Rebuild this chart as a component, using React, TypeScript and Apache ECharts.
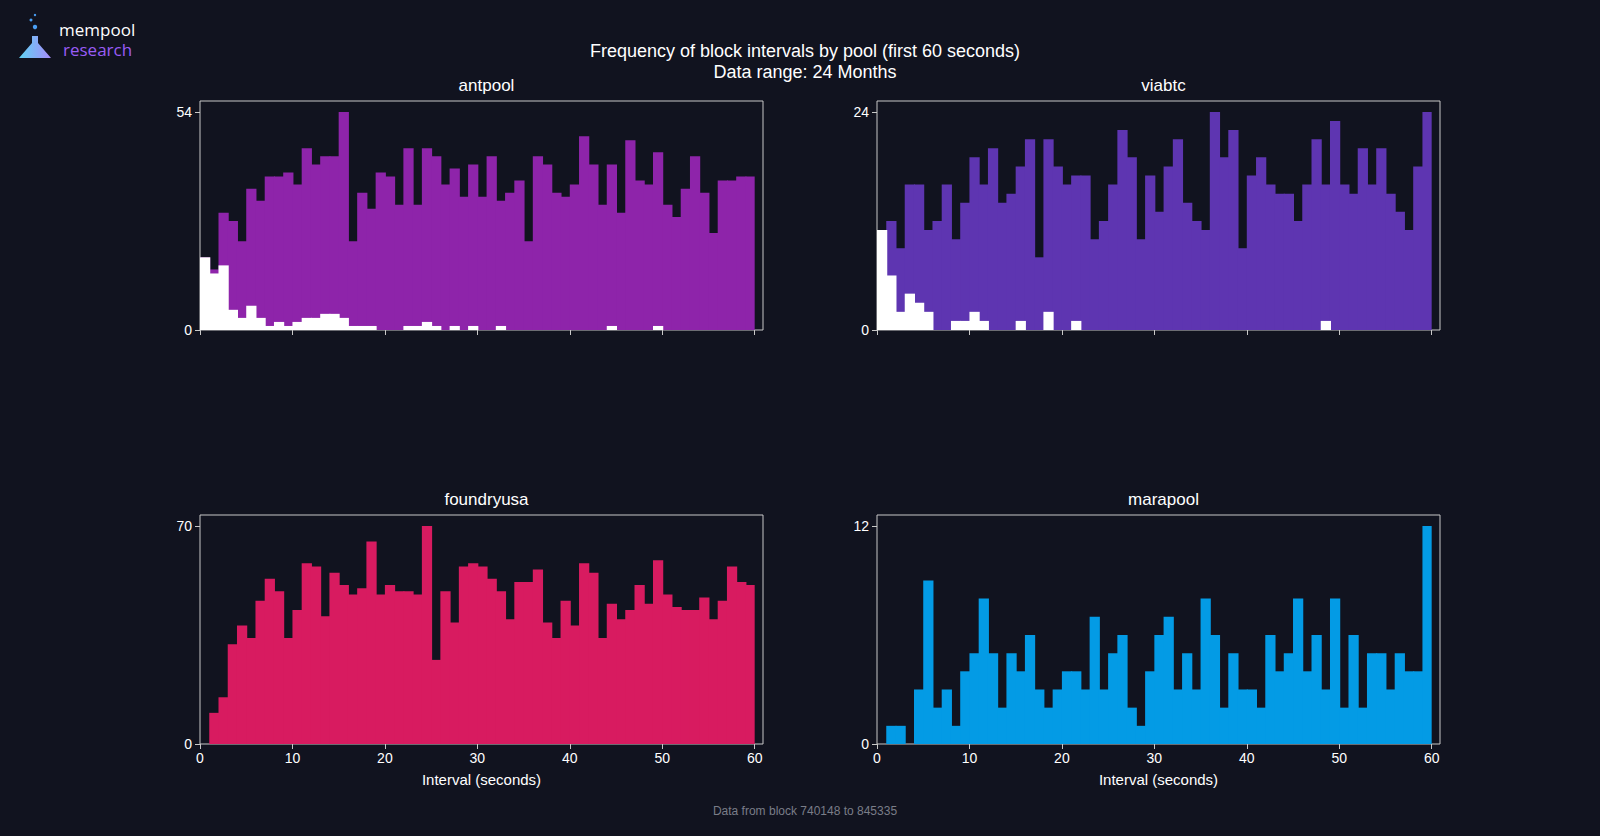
import { useEffect, useRef } from 'react'
import * as echarts from 'echarts'

// ─── data: counts per 1-second bin, 0..59 s ───
const POOLS = ['antpool', 'viabtc', 'foundryusa', 'marapool']

const antpool = [18, 15, 29, 27, 22, 35, 32, 38, 38, 39, 36, 45, 41, 43, 43, 54, 22, 34, 30, 39,
  38, 31, 45, 31, 45, 43, 36, 40, 33, 41, 33, 43, 32, 34, 37, 22, 43, 41, 34, 33,
  36, 48, 41, 31, 41, 29, 47, 37, 36, 44, 31, 28, 35, 43, 34, 24, 37, 37, 38, 38]
const antpoolEmpty = [18, 14, 16, 5, 3, 6, 3, 1, 2, 1, 2, 3, 3, 4, 4, 3, 1, 1, 1, 0,
  0, 0, 1, 1, 2, 1, 0, 1, 0, 1, 0, 0, 1, 0, 0, 0, 0, 0, 0, 0,
  0, 0, 0, 0, 1, 0, 0, 0, 0, 1, 0, 0, 0, 0, 0, 0, 0, 0, 0, 0]
const viabtc = [11, 12, 9, 16, 16, 11, 12, 16, 10, 14, 19, 16, 20, 14, 15, 18, 21, 8, 21, 18,
  16, 17, 17, 10, 12, 16, 22, 19, 10, 17, 13, 18, 21, 14, 12, 11, 24, 19, 22, 9,
  17, 19, 16, 15, 15, 12, 16, 21, 16, 23, 16, 15, 20, 16, 20, 15, 13, 11, 18, 24]
const viabtcEmpty = [11, 6, 2, 4, 3, 2, 0, 0, 1, 1, 2, 1, 0, 0, 0, 1, 0, 0, 2, 0,
  0, 1, 0, 0, 0, 0, 0, 0, 0, 0, 0, 0, 0, 0, 0, 0, 0, 0, 0, 0,
  0, 0, 0, 0, 0, 0, 0, 0, 1, 0, 0, 0, 0, 0, 0, 0, 0, 0, 0, 0]
const foundryusa = [0, 10, 15, 32, 38, 34, 46, 53, 49, 34, 43, 58, 57, 41, 55, 51, 48, 50, 65, 48,
  51, 49, 49, 48, 70, 27, 49, 39, 57, 58, 57, 53, 49, 40, 52, 52, 56, 39, 34, 46,
  38, 58, 55, 34, 45, 40, 43, 51, 45, 59, 48, 44, 43, 43, 47, 40, 46, 57, 52, 51]
const marapool = [0, 1, 1, 0, 3, 9, 2, 3, 1, 4, 5, 8, 5, 2, 5, 4, 6, 3, 2, 3,
  4, 4, 3, 7, 3, 5, 6, 2, 1, 4, 6, 7, 3, 5, 3, 8, 6, 2, 5, 3,
  3, 2, 6, 4, 5, 8, 4, 6, 3, 8, 2, 6, 2, 5, 5, 3, 5, 4, 4, 12]

const SERIES = [antpool, viabtc, foundryusa, marapool]
const EMPTY = [antpoolEmpty, viabtcEmpty, null, null]
const COLORS = ['#8e24aa', '#5e35b1', '#d81b60', '#039be5']
const X_TICKS = [0, 10, 20, 30, 40, 50, 60]

const BG = '#11131f'
const FONT = '"Liberation Sans", Arial, sans-serif'

const GRIDS = [
  { left: 200, top: 101, width: 563, height: 229 },
  { left: 877, top: 101, width: 563, height: 229 },
  { left: 200, top: 515, width: 563, height: 229 },
  { left: 877, top: 515, width: 563, height: 229 },
]

const histSeries = (data: number[], idx: number, color: string) => ({
  type: 'custom',
  xAxisIndex: idx,
  yAxisIndex: idx,
  data: data.map((v, i) => [i, v]),
  renderItem: (_p: any, api: any) => {
    const i = api.value(0), v = api.value(1)
    if (!v) return null
    const a = api.coord([i, v]), b = api.coord([i + 1, 0])
    // overlap neighbours by 1px so no seams show
    const last = i === data.length - 1
    return {
      type: 'rect',
      shape: { x: a[0], y: a[1], width: b[0] - a[0] + (last ? 0 : 1), height: b[1] - a[1] },
      style: { fill: color },
    }
  },
})

export default function App() {
  const ref = useRef<HTMLDivElement>(null)

  useEffect(() => {
    if (!ref.current) return
    document.body.style.margin = '0'
    document.body.style.background = BG
    const chart = echarts.init(ref.current, null, { renderer: 'svg' })

    const series: any[] = []
    SERIES.forEach((d, i) => {
      series.push(histSeries(d, i, COLORS[i]))
      const e = EMPTY[i]
      if (e) series.push(histSeries(e, i, '#ffffff'))
    })

    chart.setOption({
      animation: false,
      backgroundColor: BG,
      textStyle: { fontFamily: FONT },
      title: [
        { text: 'Frequency of block intervals by pool (first 60 seconds)\nData range: 24 Months', left: 800, top: 35, textAlign: 'center',
          textStyle: { color: '#ffffff', fontSize: 18, fontWeight: 'normal', lineHeight: 21, fontFamily: FONT } },
        ...POOLS.map((p, i) => ({
          text: p, left: GRIDS[i].left + GRIDS[i].width / 2, top: GRIDS[i].top - 29, textAlign: 'center',
          textStyle: { color: '#ffffff', fontSize: 17, fontWeight: 'normal', fontFamily: FONT },
        })),
        { text: 'Data from block 740148 to 845335', left: 800, top: 800, textAlign: 'center',
          textStyle: { color: '#7a7d88', fontSize: 12, fontWeight: 'normal', fontFamily: FONT } },
      ],
      grid: GRIDS.map(g => ({ ...g, show: true, borderColor: '#c8c8c8', borderWidth: 1, containLabel: false })),
      xAxis: GRIDS.map((_, i) => ({
        type: 'value', gridIndex: i, min: 0, max: 60.9, interval: 10,
        name: i >= 2 ? 'Interval (seconds)' : '', nameLocation: 'middle', nameGap: 28,
        nameTextStyle: { color: '#ffffff', fontSize: 15, fontFamily: FONT },
        axisLine: { show: false },
        axisTick: { show: true, inside: false, length: 5, lineStyle: { color: '#c8c8c8' }, customValues: X_TICKS },
        axisLabel: { show: i >= 2, color: '#ffffff', fontSize: 14, margin: 7, customValues: X_TICKS, showMaxLabel: true },
        splitLine: { show: false },
      })),
      yAxis: GRIDS.map((_, i) => {
        const m = Math.max(...SERIES[i])
        return {
          type: 'value', gridIndex: i, min: 0, max: m * 1.05,
          axisLine: { show: false },
          axisTick: { show: true, length: 5, lineStyle: { color: '#c8c8c8' }, customValues: [0, m] },
          axisLabel: { color: '#ffffff', fontSize: 14, margin: 8, customValues: [0, m] },
          splitLine: { show: false },
        }
      }),
      graphic: [
        { type: 'polygon', shape: { points: [[32, 36], [38, 36], [38, 43], [51, 58], [19, 58], [32, 43]] },
          style: { fill: new echarts.graphic.LinearGradient(0, 0, 1, 0, [
            { offset: 0, color: '#5fd3f3' }, { offset: 1, color: '#a78bfa' }]) } },
        { type: 'circle', shape: { cx: 35, cy: 27, r: 2.2 }, style: { fill: '#4a9ff5' } },
        { type: 'circle', shape: { cx: 31, cy: 20, r: 1.5 }, style: { fill: '#4a9ff5' } },
        { type: 'circle', shape: { cx: 35, cy: 15, r: 1.2 }, style: { fill: '#4a9ff5' } },
        { type: 'text', x: 59, y: 21, style: { text: 'mempool', fill: '#ffffff', font: '17px "Open Sans", sans-serif' } },
        { type: 'text', x: 63, y: 41, style: { text: 'research', fill: '#9a5cf6', font: '17px "Open Sans", sans-serif' } },
      ],
      series,
    })

    return () => chart.dispose()
  }, [])

  return <div ref={ref} style={{ width: 1600, height: 836 }} />
}
